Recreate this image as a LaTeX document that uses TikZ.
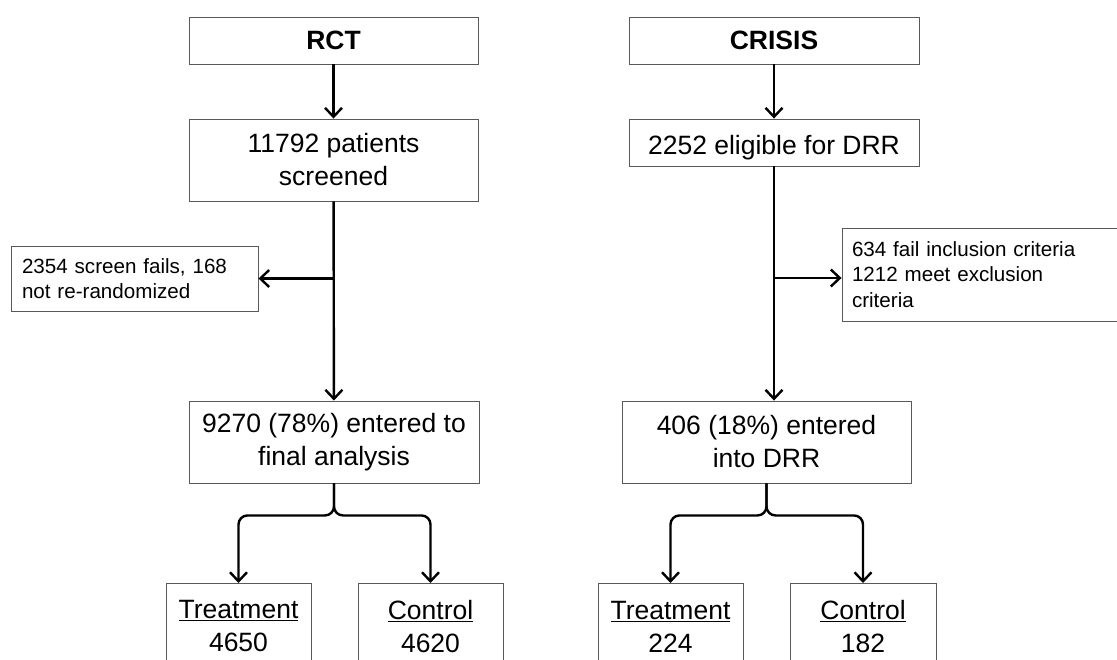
\documentclass[tikz,border=0pt]{standalone}
\usepackage{fontspec}
\setmainfont{Liberation Sans}
\usepackage{tikz}
\usetikzlibrary{arrows.meta}

\tikzset{
  box/.style={draw=black!65, line width=0.9pt, align=center, inner sep=0pt},
  note/.style={box, align=left, font=\fontsize{20.6}{25.5}\selectfont},
  flow/.style={-{Straight Barb[length=9pt,width=17pt,line width=2.4pt]},
               line width=2.4pt, black}
}

\begin{document}
\begin{tikzpicture}[x=1pt, y=-1pt, font=\fontsize{26.5}{33}\selectfont]
  \clip (0,0) rectangle (1117,659);
  \fill[white] (0,0) rectangle (1117,659);

  % RCT column
  \node[box, minimum width=289pt, minimum height=47pt] (rct) at (333.5,40.5)
    {\textbf{RCT}};
  \node[box, minimum width=289pt, minimum height=82pt] (pat) at (333.5,160)
    {11792 patients\\screened};
  \node[note, minimum width=247pt, minimum height=65pt, text width=225pt]
    (fail) at (134.5,278.5) {2354 screen fails, 168\\not re-randomized};
  \node[box, minimum width=290pt, minimum height=82pt] (fin) at (334,442)
    {9270 (78\%) entered to\\final analysis\rule[-4pt]{0pt}{1pt}};
  \node[box, minimum width=145pt, minimum height=86pt, anchor=north] (trt1) at (238.5,583)
    {\underline{Treatment}\\4650};
  \node[box, minimum width=145pt, minimum height=86pt, anchor=north] (ctl1) at (430.5,583)
    {\underline{Control}\\4620};

  % CRISIS column
  \node[box, minimum width=290pt, minimum height=47pt] (crisis) at (774,40.5)
    {\textbf{CRISIS}};
  \node[box, minimum width=290pt, minimum height=47pt, text height=26pt,
        text depth=3pt] (elig) at (774,142.5) {2252 eligible for DRR};
  \node[note, minimum width=290pt, minimum height=93pt, text width=270pt]
    (excl) at (987,274.5) {634 fail inclusion criteria\\1212 meet exclusion\\criteria};
  \node[box, minimum width=289pt, minimum height=82pt] (drr) at (766.5,442)
    {406 (18\%) entered\\into DRR};
  \node[box, minimum width=145pt, minimum height=86pt, anchor=north] (trt2) at (670.5,583)
    {\underline{Treatment}\\224};
  \node[box, minimum width=146pt, minimum height=86pt, anchor=north] (ctl2) at (863,583)
    {\underline{Control}\\182};

  \coordinate (s1) at (pat.south |- fail.east);
  \coordinate (s2) at ([yshift=-3.5pt]elig.south |- excl.west);

  \draw[flow] (rct) -- (pat);
  \draw[flow] (pat) -- (fin);
  \draw[flow] (s1) -- (fail.east);
  \draw[flow, rounded corners=9pt] (fin.south) -- ++(0,32) -| (trt1.north);
  \draw[flow, rounded corners=9pt] (fin.south) -- ++(0,32) -| (ctl1.north);

  \draw[flow] (crisis) -- (elig);
  \draw[flow] (elig.south) -- (elig.south |- drr.north);
  \draw[flow] (s2) -- (s2 -| excl.west);
  \draw[flow, rounded corners=9pt] (drr.south) -- ++(0,32) -| (trt2.north);
  \draw[flow, rounded corners=9pt] (drr.south) -- ++(0,32) -| (ctl2.north);
\end{tikzpicture}
\end{document}
